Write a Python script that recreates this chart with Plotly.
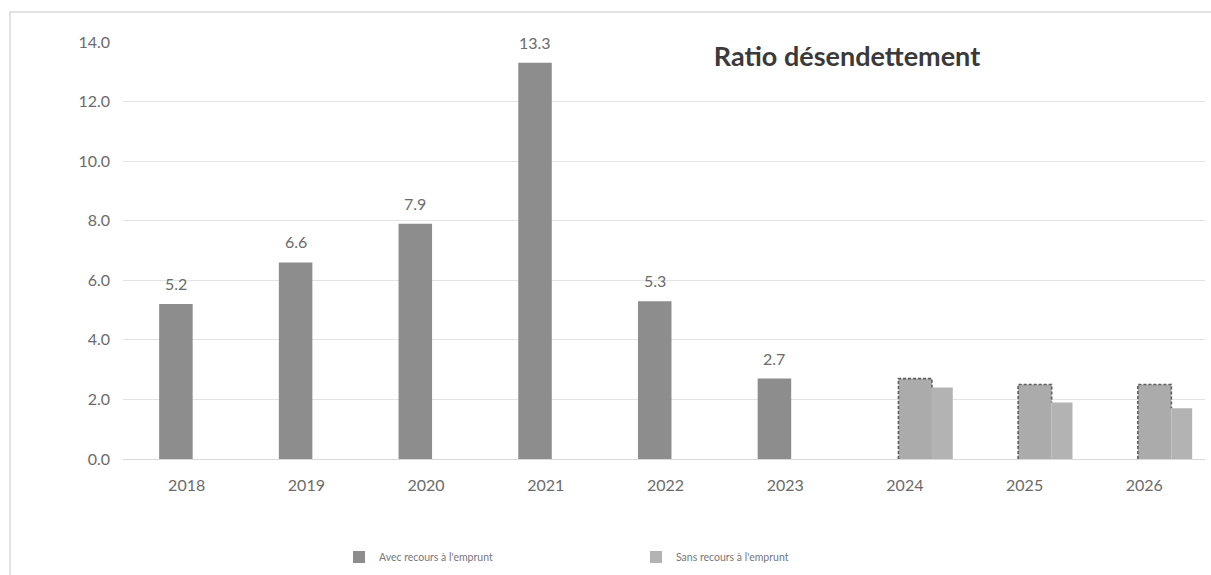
import plotly.graph_objects as go

# ---------------- data ----------------
years = ["2018", "2019", "2020", "2021", "2022", "2023", "2024", "2025", "2026"]
avec_reel = [5.2, 6.6, 7.9, 13.3, 5.3, 2.7, None, None, None]
avec_prev = [None, None, None, None, None, None, 2.7, 2.5, 2.5]
sans_prev = [None, None, None, None, None, None, 2.4, 1.9, 1.7]
y_ticks = [0, 2, 4, 6, 8, 10, 12, 14]
title_text = "Ratio désendettement"
legend_avec = "Avec recours à l'emprunt"
legend_sans = "Sans recours à l'emprunt"

# ---------------- layout constants ----------------
W, H = 1211, 575
L, R, T, B = 123, 6, 42, 116
PW, PH = W - L - R, H - T - B

FONT = "Lato"
TXT = "#6b6b6b"
C_REEL = "#8d8d8d"
C_PREV = "#ababab"
C_SANS = "#b3b3b3"

idx = list(range(len(years)))
w_avec = 0.28
off_reel = -0.23
off_prev = -0.054
w_sans = 0.174
off_sans = off_prev + w_avec

fig = go.Figure()

fig.add_trace(go.Bar(
    x=idx, y=avec_reel, width=w_avec, offset=off_reel,
    marker=dict(color=C_REEL, line=dict(width=0)),
    name=legend_avec, legendgroup="avec", showlegend=True,
))
fig.add_trace(go.Bar(
    x=idx, y=avec_prev, width=w_avec, offset=off_prev,
    marker=dict(color=C_PREV, line=dict(width=0)),
    name=legend_avec, legendgroup="avec", showlegend=False,
))
fig.add_trace(go.Bar(
    x=idx, y=sans_prev, width=w_sans, offset=off_sans,
    marker=dict(color=C_SANS, line=dict(width=0)),
    name=legend_sans, legendgroup="sans", showlegend=True,
))

# dashed outline of the forecast "avec" bars, built from the data
ox, oy = [], []
for i, (a, s) in enumerate(zip(avec_prev, sans_prev)):
    if a is None:
        continue
    left = i + off_prev
    right = left + w_avec
    ox += [left, left, right, right, None]
    oy += [0, a, a, s, None]
fig.add_trace(go.Scatter(
    x=ox, y=oy, mode="lines",
    line=dict(color="#5e5e5e", width=1.6, dash="3px,2px"),
    showlegend=False, hoverinfo="skip",
))

# data labels above actual bars
for i, v in enumerate(avec_reel):
    if v is None:
        continue
    fig.add_annotation(
        x=i + off_reel + w_avec / 2, y=v, xref="x", yref="y",
        text=f"{v:.1f}", showarrow=False, yanchor="bottom", yshift=9,
        font=dict(family=FONT, size=16, color=TXT),
    )

# outer chart border
def px_to_paper_x(px):
    return (px - L) / PW

def px_to_paper_y(py):
    return 1 - (py - T) / PH

fig.add_shape(
    type="rect", xref="paper", yref="paper",
    x0=px_to_paper_x(10), x1=px_to_paper_x(1300),
    y0=px_to_paper_y(620), y1=px_to_paper_y(12),
    line=dict(color="#d9d9d9", width=1.5), fillcolor="rgba(0,0,0,0)", layer="below",
)

fig.update_layout(
    width=W, height=H,
    margin=dict(l=L, r=R, t=T, b=B, pad=0),
    paper_bgcolor="white", plot_bgcolor="white",
    barmode="overlay",
    title=dict(
        text=title_text, x=847 / W, xanchor="center", xref="container",
        y=1 - 57 / H, yanchor="middle", yref="container",
        font=dict(family=FONT, size=27, color="#3a3a3a", weight=700),
    ),
    legend=dict(
        orientation="h", x=(339) / W, xref="container", xanchor="left",
        y=1 - 557 / H, yref="container", yanchor="middle",
        font=dict(family=FONT, size=10.5, color="#777777"),
        entrywidth=252, entrywidthmode="pixels",
        itemwidth=30, traceorder="normal",
        bgcolor="rgba(0,0,0,0)",
    ),
    font=dict(family=FONT, color=TXT),
    showlegend=True,
)

fig.update_xaxes(
    range=[-0.532, 8.507], tickmode="array", tickvals=idx, ticktext=years,
    showgrid=False, zeroline=False, showline=True, linecolor="#d9d9d9", linewidth=1,
    ticks="", tickfont=dict(family=FONT, size=16, color=TXT), ticklabelstandoff=12,
    fixedrange=True,
)
fig.update_yaxes(
    range=[0, 14], tickmode="array", tickvals=y_ticks,
    ticktext=[f"{t:.1f}" for t in y_ticks],
    showgrid=True, gridcolor="#e3e3e3", gridwidth=1, zeroline=False,
    showline=False, ticks="", tickfont=dict(family=FONT, size=16, color=TXT),
    ticklabelstandoff=12, fixedrange=True,
)

fig.write_html("out.html")
